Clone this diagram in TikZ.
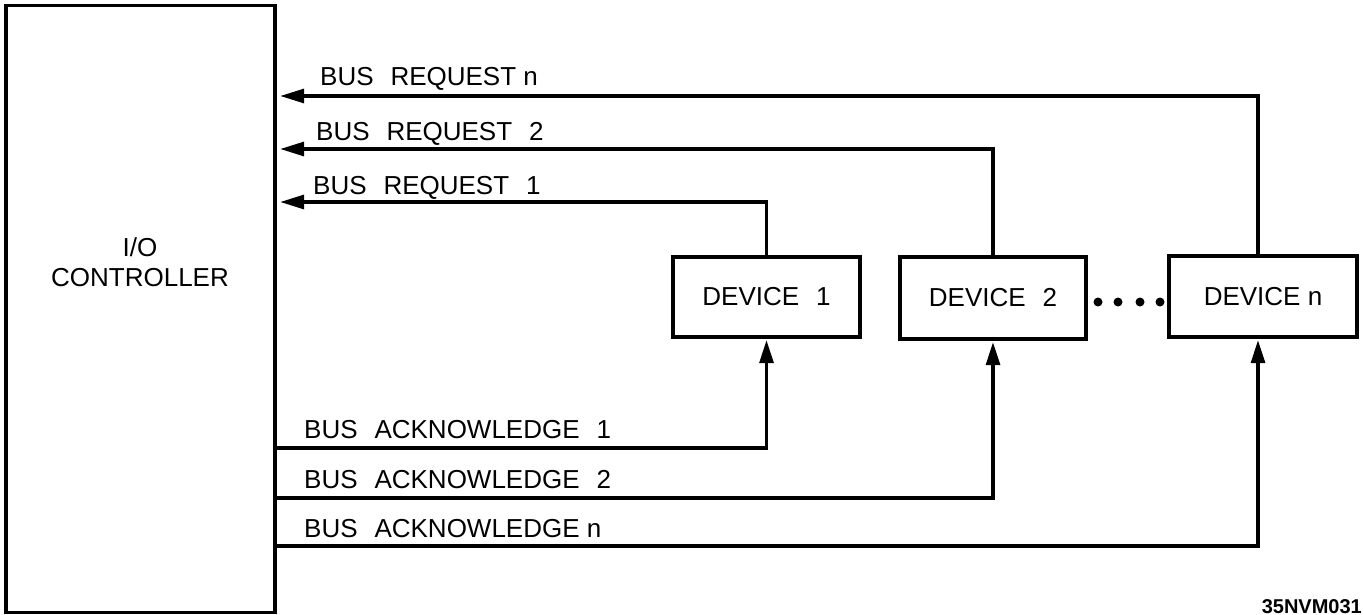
\documentclass[tikz,border=0pt]{standalone}
\usepackage{fontspec}
\setmainfont{Liberation Sans}
\usetikzlibrary{arrows.meta}
\newcommand\wsp{\hspace{0.65em}}
\tikzset{
  box/.style={draw, line width=3.4pt, inner sep=0pt, font=\fontsize{26}{30}\selectfont},
  lbl/.style={anchor=base west, inner sep=0pt, font=\fontsize{26}{30}\selectfont},
  conn/.style={line width=3.2pt},
  req/.style={conn, -{Triangle[length=24pt,width=14pt]}, shorten >=3.5pt},
  ack/.style={conn, -{Triangle[length=23pt,width=14pt]}, shorten >=1.5pt},
}
\begin{document}
\begin{tikzpicture}[x=1pt,y=-1pt]
\useasboundingbox (0,0) rectangle (1364,615);
% controller
\node[box, minimum width=269pt, minimum height=607pt] (ctrl) at (140.5,309) {};
\node[anchor=base, inner sep=0pt, font=\fontsize{26}{30}\selectfont] (io) at (140,256) {I/O};
\node[anchor=base, inner sep=0pt, font=\fontsize{26}{30}\selectfont] (ctl) at (140,286) {CONTROLLER};
% devices
\node[box, minimum width=187pt, minimum height=80pt] (dev1) at (766.5,297) {DEVICE\wsp1};
\node[box, minimum width=186pt, minimum height=82pt] (dev2) at (993,298) {DEVICE\wsp2};
\node[box, minimum width=188pt, minimum height=81pt] (devn) at (1263,296.5) {DEVICE n};
\coordinate (dn) at (1258,0);
% dots
\fill (1098,302) circle (4.5pt);
\fill (1118,302) circle (4.5pt);
\fill (1140,302) circle (4.5pt);
\fill (1160,302) circle (4.5pt);
% bus requests
\draw[req] (devn.north -| dn) |- (ctrl.east |- 0,96);
\draw[req] (dev2.north) |- (ctrl.east |- 0,149);
\draw[req] (dev1.north) |- (ctrl.east |- 0,202);
\node[lbl] (rqn) at (320,86) {BUS\wsp REQUEST n};
\node[lbl] (rq2) at (316,140) {BUS\wsp REQUEST\wsp2};
\node[lbl] (rq1) at (313,194) {BUS\wsp REQUEST\wsp1};
% bus acknowledges
\draw[ack] (ctrl.east |- 0,448) -| (dev1.south);
\draw[ack] (ctrl.east |- 0,498) -| (dev2.south);
\draw[ack] (ctrl.east |- 0,546) -| (devn.south -| dn);
\node[lbl] (ak1) at (304,438) {BUS\wsp ACKNOWLEDGE\wsp1};
\node[lbl] (ak2) at (304,488) {BUS\wsp ACKNOWLEDGE\wsp2};
\node[lbl] (akn) at (304,537) {BUS\wsp ACKNOWLEDGE n};
% figure id
\node[anchor=base east, inner sep=0pt, font=\fontsize{20}{24}\selectfont\bfseries] (fid) at (1362,613) {35NVM031};
\end{tikzpicture}
\end{document}
